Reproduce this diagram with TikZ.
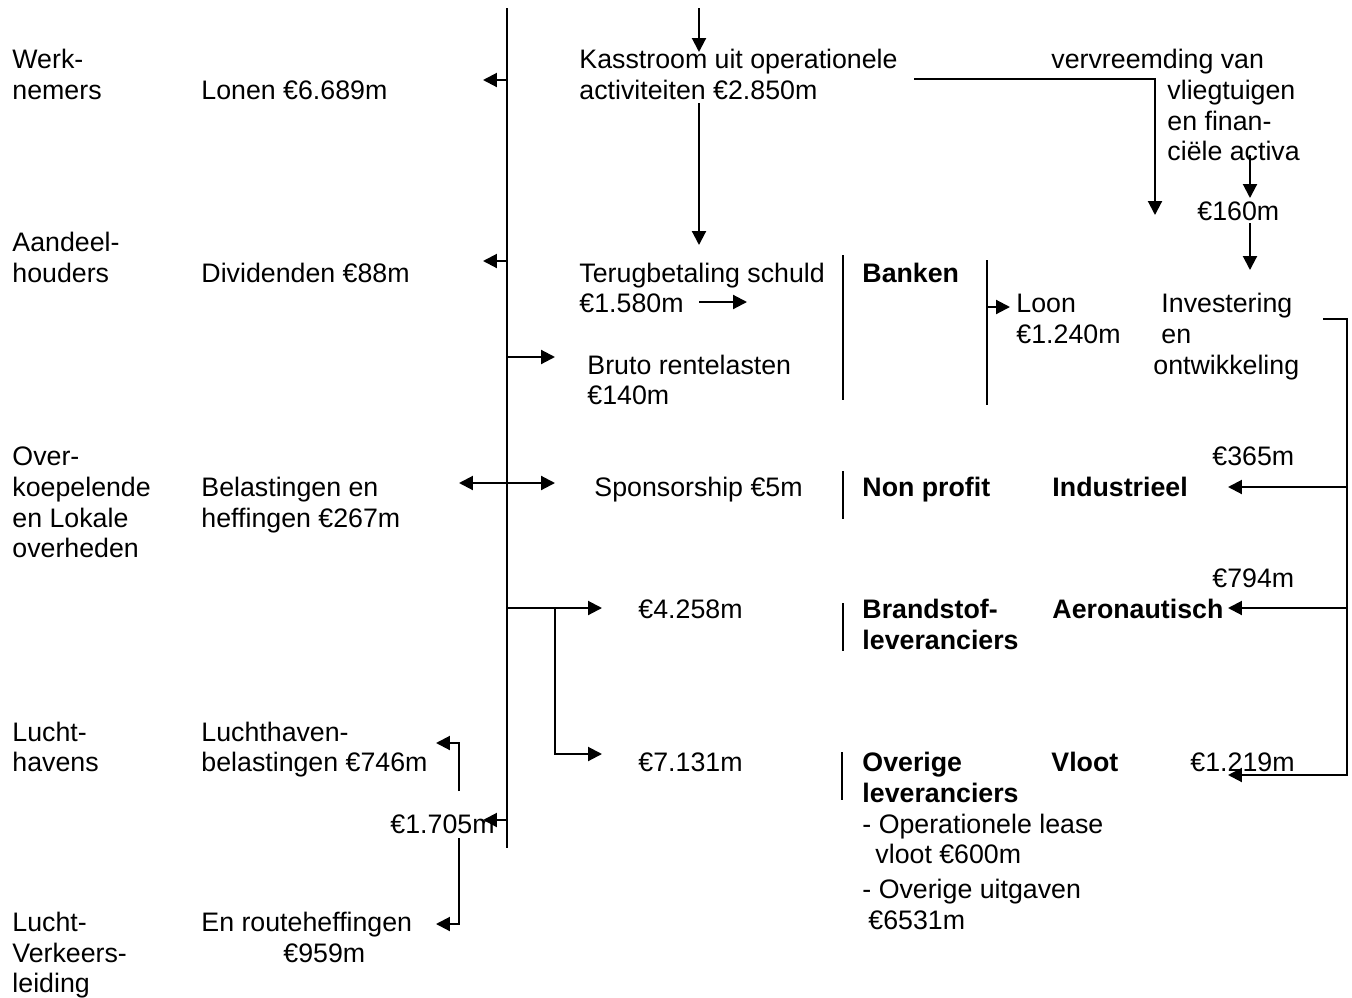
\documentclass[tikz,border=0pt]{standalone}
\usepackage{fontspec}
\setmainfont{Liberation Sans}
\usetikzlibrary{arrows.meta}
\begin{document}
\begin{tikzpicture}[x=0.43pt,y=-0.43pt,
  lbl/.style={anchor=base west,inner sep=0pt,font=\fontsize{11.5}{14}\selectfont},
  blbl/.style={anchor=base west,inner sep=0pt,font=\fontsize{11.5}{14}\selectfont\bfseries},
  ln/.style={line width=0.9pt},
  arr/.style={ln,-{Triangle[length=6pt,width=6pt]}},
  darr/.style={ln,{Triangle[length=6pt,width=6pt]}-{Triangle[length=6pt,width=6pt]}},
  sepline/.style={line width=0.7pt}]
\useasboundingbox (0,0) rectangle (1352,998);

% ---- left column
\node[lbl] (werk1) at (12,68) {Werk-};
\node[lbl] (werk2) at (12,99) {nemers};
\node[lbl] (aand1) at (12,251) {Aandeel-};
\node[lbl] (aand2) at (12,282) {houders};
\node[lbl] (over1) at (12,465) {Over-};
\node[lbl] (over2) at (12,496) {koepelende};
\node[lbl] (over3) at (12,527) {en Lokale};
\node[lbl] (over4) at (12,557) {overheden};
\node[lbl] (luh1) at (12,741) {Lucht-};
\node[lbl] (luh2) at (12,771) {havens};
\node[lbl] (lvl1) at (12,931) {Lucht-};
\node[lbl] (lvl2) at (12,962) {Verkeers-};
\node[lbl] (lvl3) at (12,992) {leiding};

% ---- second column
\node[lbl] (lonen) at (201,99) {Lonen €6.689m};
\node[lbl] (divid) at (201,282) {Dividenden €88m};
\node[lbl] (bel1) at (201,496) {Belastingen en};
\node[lbl] (bel2) at (201,527) {heffingen €267m};
\node[lbl] (lhb1) at (201,741) {Luchthaven-};
\node[lbl] (lhb2) at (201,771) {belastingen €746m};
\node[lbl] (erh1) at (201,931) {En routeheffingen};
\node[lbl] (erh2) at (283,962) {€959m};
\node[lbl] (v1705) at (390,833) {€1.705m};

% ---- centre column
\node[lbl] (kas1) at (579,68) {Kasstroom uit operationele};
\node[lbl] (kas2) at (579,99) {activiteiten €2.850m};
\node[lbl] (ter1) at (579,282) {Terugbetaling schuld};
\node[lbl] (ter2) at (579,312) {€1.580m};
\node[lbl] (bru1) at (587,374) {Bruto rentelasten};
\node[lbl] (bru2) at (587,404) {€140m};
\node[lbl] (spon) at (594,496) {Sponsorship €5m};
\node[lbl] (v4258) at (638,618) {€4.258m};
\node[lbl] (v7131) at (638,771) {€7.131m};

% ---- receivers
\node[blbl] (bank) at (862,282) {Banken};
\node[blbl] (nonp) at (862,496) {Non profit};
\node[blbl] (bra1) at (862,618) {Brandstof-};
\node[blbl] (bra2) at (862,649) {leveranciers};
\node[blbl] (ovl1) at (862,771) {Overige};
\node[blbl] (ovl2) at (862,802) {leveranciers};
\node[lbl] (opl1) at (862,833) {- Operationele lease};
\node[lbl] (opl2) at (875,863) {vloot €600m};
\node[lbl] (ovu1) at (862,898) {- Overige uitgaven};
\node[lbl] (ovu2) at (868,929) {€6531m};

\node[lbl] (loon1) at (1016,312) {Loon};
\node[lbl] (loon2) at (1016,343) {€1.240m};
\node[lbl] (inv1) at (1161,312) {Investering};
\node[lbl] (inv2) at (1161,343) {en};
\node[lbl] (inv3) at (1153,374) {ontwikkeling};

\node[lbl] (vvr1) at (1051,68) {vervreemding van};
\node[lbl] (vvr2) at (1167,99) {vliegtuigen};
\node[lbl] (vvr3) at (1167,130) {en finan-};
\node[lbl] (vvr4) at (1167,160) {ciële activa};
\node[lbl] (v160) at (1197,220) {€160m};

\node[blbl] (indu) at (1052,496) {Industrieel};
\node[blbl] (aero) at (1052,618) {Aeronautisch};
\node[blbl] (vloot) at (1051,771) {Vloot};
\node[lbl] (v365) at (1212,465) {€365m};
\node[lbl] (v794) at (1212,587) {€794m};
\node[lbl] (v1219) at (1190,771) {€1.219m};

% ---- coordinates
\coordinate (mT) at (507,8);
\coordinate (mB) at (507,848);
\coordinate (m80) at (507,80);   \coordinate (l80) at (483,80);
\coordinate (m261) at (507,261); \coordinate (l261) at (483,261);
\coordinate (m357) at (507,357); \coordinate (r357) at (555,357);
\coordinate (dL) at (459,483);   \coordinate (dR) at (555,483);
\coordinate (m608) at (507,608); \coordinate (b608) at (555,608); \coordinate (r608) at (602,608);
\coordinate (b754) at (555,754); \coordinate (r754) at (602,754);
\coordinate (m820) at (507,820); \coordinate (l820) at (483,820);
\coordinate (h743) at (459,743); \coordinate (h791) at (459,791); \coordinate (hl743) at (436,743);
\coordinate (h838) at (459,838); \coordinate (h924) at (459,924); \coordinate (hl924) at (436,924);

\coordinate (topA) at (699,8);   \coordinate (topB) at (699,52);
\coordinate (kdA) at (699,103);  \coordinate (kdB) at (699,245);
\coordinate (tA) at (699,302);   \coordinate (tB) at (747,302);

\coordinate (kr0) at (914,79); \coordinate (kr1) at (1155,79); \coordinate (kr2) at (1155,215);
\coordinate (va1) at (1250,155); \coordinate (va2) at (1250,198);
\coordinate (vb1) at (1250,223); \coordinate (vb2) at (1250,270);

\coordinate (lA) at (987,307); \coordinate (lB) at (1010,307);

\coordinate (rb0) at (1323,319); \coordinate (rb1) at (1347,319);
\coordinate (rb2) at (1347,775); \coordinate (rt775) at (1228,775);
\coordinate (rb487) at (1347,487); \coordinate (rt487) at (1228,487);
\coordinate (rb608) at (1347,608); \coordinate (rt608) at (1228,608);

\coordinate (s1a) at (843,255); \coordinate (s1b) at (843,400);
\coordinate (s2a) at (843,471); \coordinate (s2b) at (843,519);
\coordinate (s3a) at (843,603); \coordinate (s3b) at (843,651);
\coordinate (s4a) at (842,752); \coordinate (s4b) at (842,800);
\coordinate (s5a) at (987,260); \coordinate (s5b) at (987,405);

% ---- lines
\draw[ln] (mT) -- (mB);
\draw[arr] (m80) -- (l80);
\draw[arr] (m261) -- (l261);
\draw[arr] (m357) -- (r357);
\draw[darr] (dL) -- (dR);
\draw[arr] (m608) -- (r608);
\draw[arr] (b608) -- (b754) -- (r754);
\draw[arr] (m820) -- (l820);
\draw[arr] (h791) -- (h743) -- (hl743);
\draw[arr] (h838) -- (h924) -- (hl924);

\draw[arr] (topA) -- (topB);
\draw[arr] (kdA) -- (kdB);
\draw[arr] (tA) -- (tB);

\draw[arr] (kr0) -- (kr1) -- (kr2);
\draw[arr] (va1) -- (va2);
\draw[arr] (vb1) -- (vb2);
\draw[arr] (lA) -- (lB);

\draw[arr] (rb0) -- (rb1) -- (rb2) -- (rt775);
\draw[arr] (rb487) -- (rt487);
\draw[arr] (rb608) -- (rt608);

\draw[sepline] (s1a) -- (s1b);
\draw[sepline] (s2a) -- (s2b);
\draw[sepline] (s3a) -- (s3b);
\draw[sepline] (s4a) -- (s4b);
\draw[sepline] (s5a) -- (s5b);
\end{tikzpicture}
\end{document}
